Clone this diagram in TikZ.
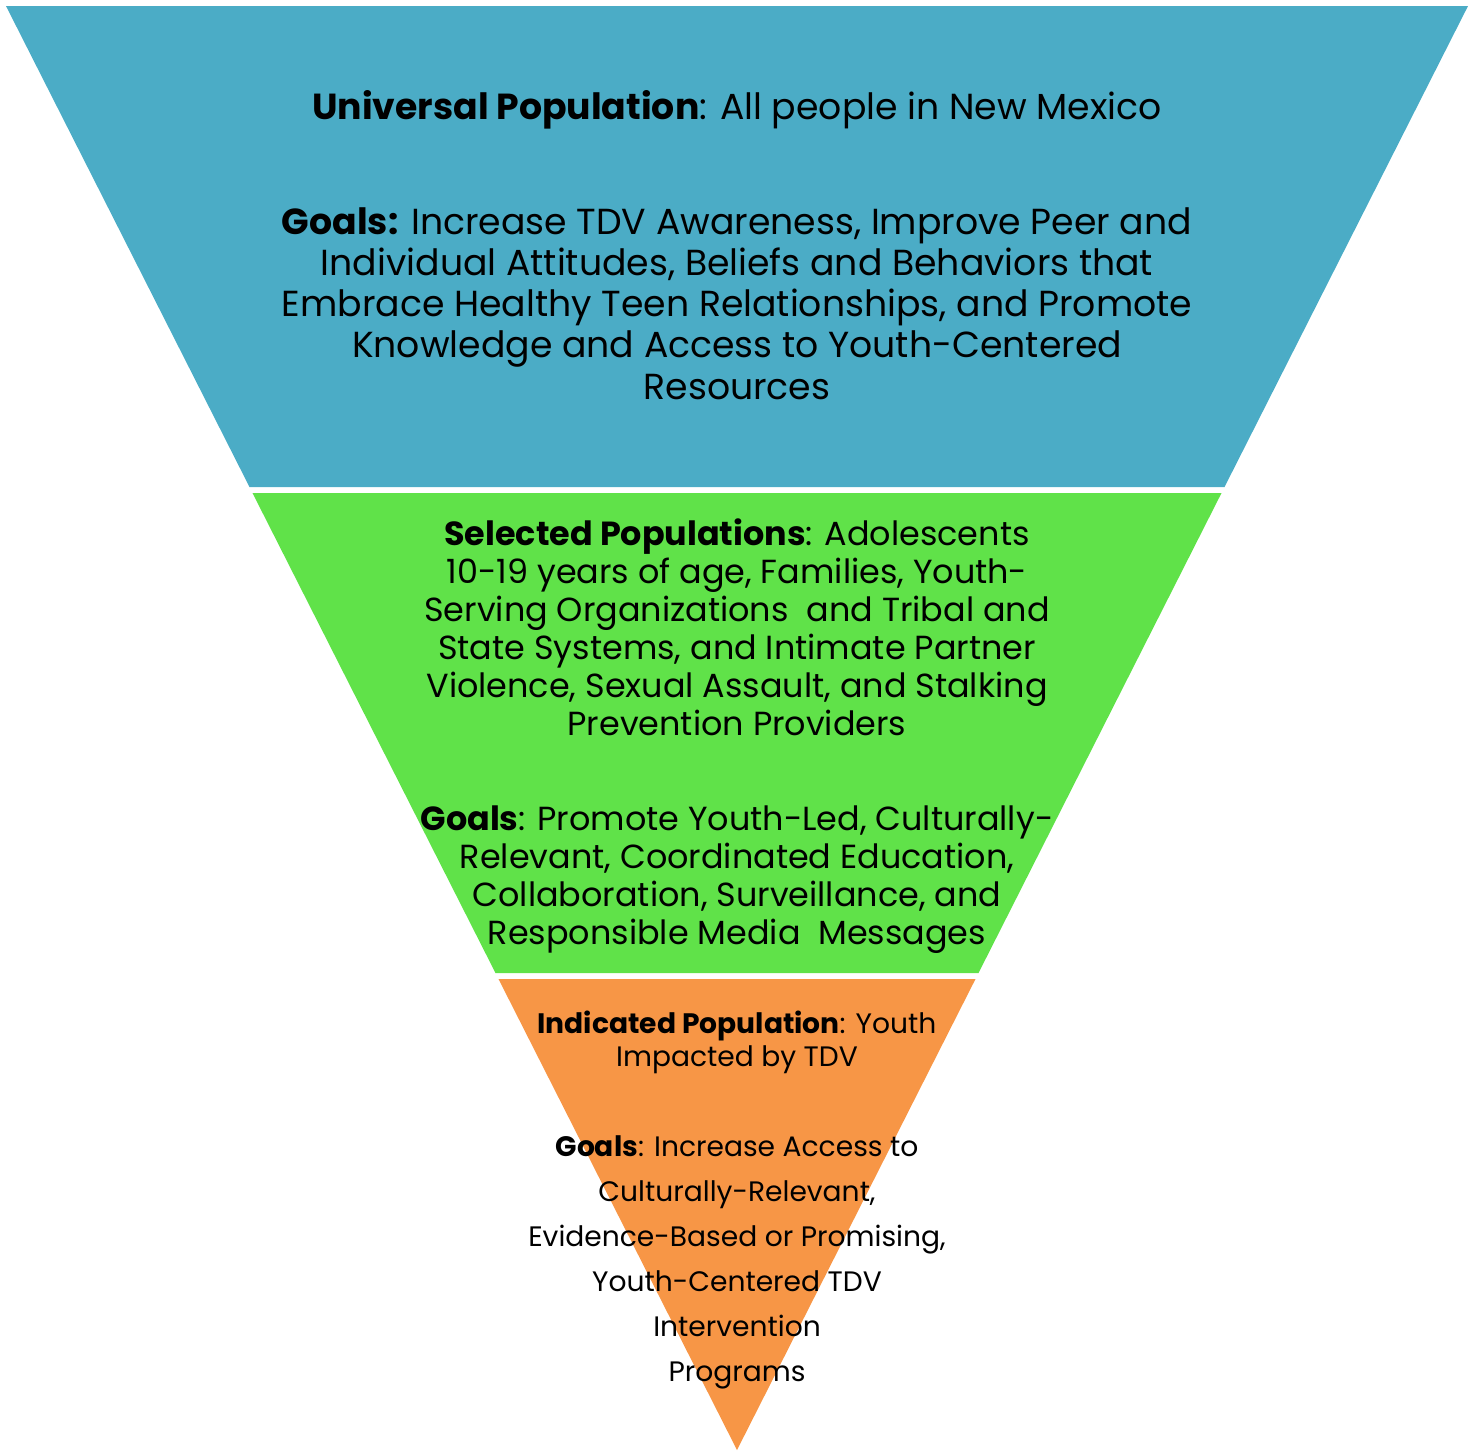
\documentclass[tikz,border=0pt]{standalone}
\usepackage{fontspec}
\setmainfont{Poppins}
\definecolor{univblue}{RGB}{75,172,198}
\definecolor{selgreen}{RGB}{96,226,73}
\definecolor{indorange}{RGB}{247,150,70}
\tikzset{
  bandtext/.style={align=center, inner sep=0pt, text=black},
  toptext/.style={bandtext, font=\fontsize{10.3}{11.7}\selectfont},
  midtext/.style={bandtext, font=\fontsize{9.5}{10.8}\selectfont},
  lowtext/.style={bandtext, font=\fontsize{8.0}{9.4}\selectfont},
  lowgoals/.style={bandtext, font=\fontsize{8.0}{12.8}\selectfont},
}
\begin{document}
\begin{tikzpicture}[x=0.01cm,y=-0.01cm]
\useasboundingbox (0,0) rectangle (1473,1450);
% the three bands of the funnel
\fill[univblue] (6,6) -- (1468,6) -- (1224.5,487) -- (249.5,487) -- cycle;
\fill[selgreen] (252.5,493) -- (1221.5,493) -- (978.5,973) -- (495.5,973) -- cycle;
\fill[indorange] (498.5,979) -- (975.5,979) -- (737,1450) -- cycle;
% universal
\node[toptext] (univ) at (737,110) {\textbf{Universal Population}: All people in New Mexico};
\node[toptext] (univgoals) at (737,303.5) {\textbf{Goals:} Increase TDV Awareness, Improve Peer and\\
Individual Attitudes, Beliefs and Behaviors that\\
Embrace Healthy Teen Relationships, and Promote\\
Knowledge and Access to Youth-Centered\\
Resources};
% selected
\node[midtext] (sel) at (737,627) {\textbf{Selected Populations}: Adolescents\\
10-19 years of age, Families, Youth-\\
Serving Organizations\ \ and Tribal and\\
State Systems, and Intimate Partner\\
Violence, Sexual Assault, and Stalking\\
Prevention Providers};
\node[midtext] (selgoals) at (737,880) {\textbf{Goals}: Promote Youth-Led, Culturally-\\
Relevant, Coordinated Education,\\
Collaboration, Surveillance, and\\
Responsible Media\ \ Messages};
% indicated
\node[lowtext] (ind) at (737,1042.5) {\textbf{Indicated Population}: Youth\\
Impacted by TDV};
\node[lowgoals] (indgoals) at (737,1262) {\textbf{Goals}: Increase Access to\\
Culturally-Relevant,\\
Evidence-Based or Promising,\\
Youth-Centered TDV\\
Intervention\\
Programs};
\end{tikzpicture}
\end{document}
